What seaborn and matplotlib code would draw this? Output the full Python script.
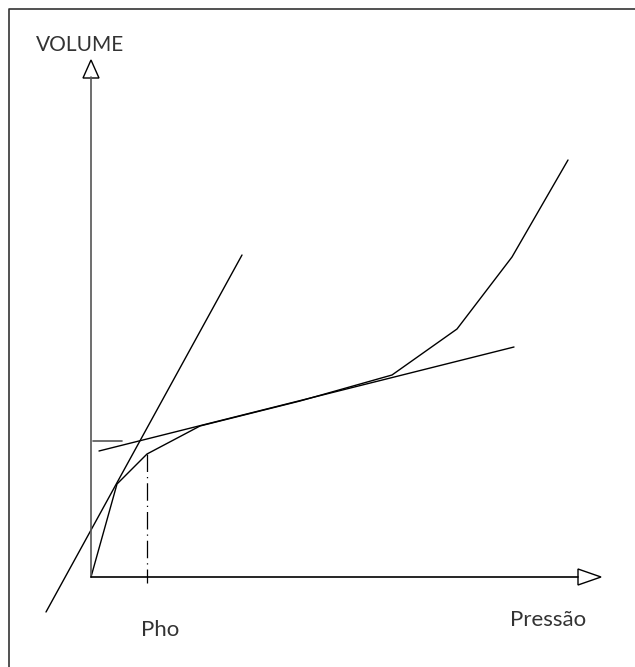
import numpy as np
import pandas as pd
import matplotlib
matplotlib.use("Agg")
import matplotlib.pyplot as plt
import seaborn as sns

# Curve volume vs pressure (units, origin at the axes corner)
curve_x = [0, 26, 56, 109, 209, 301, 366, 421, 477]
curve_y = [0, 93, 123, 151, 176, 202, 248, 320, 417]

# Tangent lines
steep_x = [-45, 151]
steep_y = [-35, 322]
flat_x = [8, 423]
flat_y = [126, 230]

# Small horizontal mark on the volume axis
mark_x = [2, 31]
mark_y = [136, 136]

# Dash-dot line down to the pressure axis
pho_x = [56, 56]
pho_y = [123, -6]

y_axis_len = 500
x_axis_len = 487

sns.set_style("white")
plt.rcParams["font.family"] = ["Lato", "DejaVu Sans"]

fig = plt.figure(figsize=(6.35, 6.67), dpi=100)
ax = fig.add_axes([0, 0, 1, 1])
ax.set_xlim(-91, 544)
ax.set_ylim(-90, 577)
ax.axis("off")

# frame (top and left edges only visible)
ax.plot([-82, -82, 560], [-100, 568, 568], color="#333333", lw=1.2)

curve = pd.DataFrame({"x": curve_x, "y": curve_y})
sns.lineplot(data=curve, x="x", y="y", sort=False, color="black", lw=1.0, ax=ax)
sns.lineplot(x=steep_x, y=steep_y, sort=False, color="black", lw=1.0, ax=ax)
sns.lineplot(x=flat_x, y=flat_y, sort=False, color="black", lw=1.0, ax=ax)
sns.lineplot(x=mark_x, y=mark_y, sort=False, color="#555555", lw=1.2, ax=ax)
ax.plot(pho_x, pho_y, color="black", lw=0.9, linestyle=(0, (14, 4, 1, 4)))

# axes with open triangle arrowheads
ax.plot([0, 0], [0, y_axis_len], color="#555555", lw=1.2)
ax.plot([0, x_axis_len], [0, 0], color="black", lw=1.2)
ax.fill([-8, 8, 0, -8], [y_axis_len - 1, y_axis_len - 1, y_axis_len + 17, y_axis_len - 1],
        facecolor="white", edgecolor="black", lw=1.0)
ax.fill([x_axis_len, x_axis_len, x_axis_len + 23, x_axis_len], [-8, 8, 0, -8],
        facecolor="white", edgecolor="black", lw=1.0)

ax.text(-11, 532, "VOLUME", fontsize=15, ha="center", va="center", color="#333333")
ax.text(457, -43, "Pressão", fontsize=16, ha="center", va="center", color="#333333")
ax.text(69, -53, "Pho", fontsize=16, ha="center", va="center", color="#333333")

fig.savefig("out.png", dpi=100)
